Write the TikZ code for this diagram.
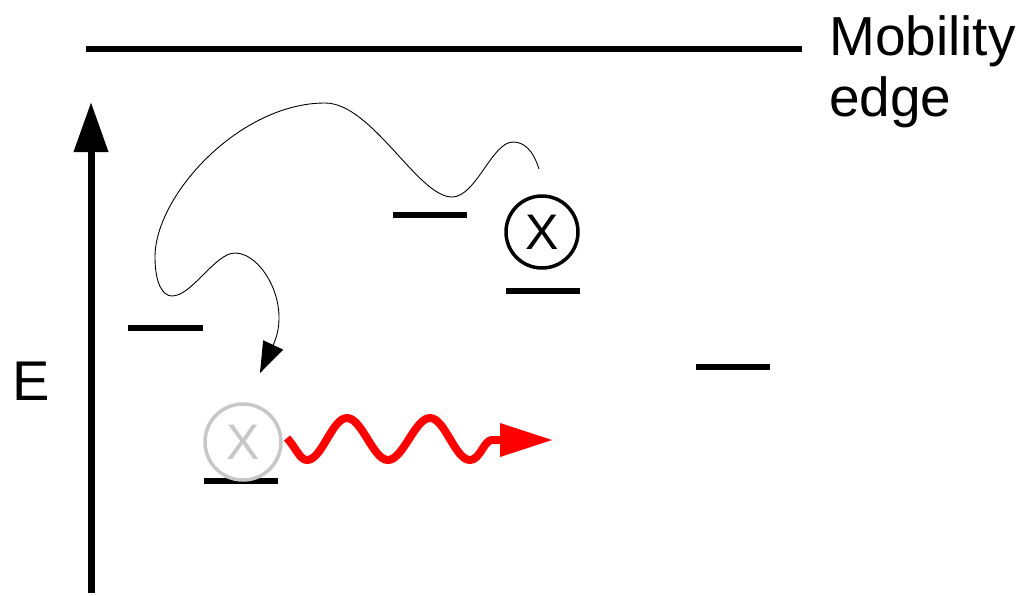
\documentclass[tikz,border=0pt]{standalone}
\usepackage{fontspec}
\setmainfont{Liberation Sans}
\usetikzlibrary{arrows.meta}
\begin{document}
\begin{tikzpicture}[x=1pt,y=-1pt,
  level/.style={line width=6pt},
  bigtext/.style={font=\fontsize{55}{60}\selectfont, inner sep=0pt},
  trap/.style={circle, draw, line width=3.5pt, minimum size=72pt, inner sep=0pt,
               font=\fontsize{50}{50}\selectfont},
  hop/.style={line width=0.9pt, -{Triangle[length=31pt,width=22pt]}},
  photon/.style={red, line width=8pt, line join=round}
]
\useasboundingbox (0,0) rectangle (1030,595);

% mobility edge
\coordinate (me1) at (86,49);
\coordinate (me2) at (802,49);
\draw[line width=6.5pt] (me1) -- (me2);
\node[bigtext, anchor=base west] (metext) at (829,55) {Mobility};
\node[bigtext, anchor=base west] (metext2) at (829,116) {edge};

% energy axis
\coordinate (ax0) at (91,593);
\coordinate (ax1) at (91,102);
\draw[line width=7pt, -{Triangle[length=50pt,width=33pt]}] (ax0) -- (ax1);
\node[font=\fontsize{56}{56}\selectfont, inner sep=0pt, anchor=base west] (E) at (12,400) {E};

% localized states
\coordinate (l1a) at (128,328); \coordinate (l1b) at (203,328);
\coordinate (l2a) at (393,215); \coordinate (l2b) at (467,215);
\coordinate (l3a) at (506,291); \coordinate (l3b) at (580,291);
\coordinate (l4a) at (696,367); \coordinate (l4b) at (770,367);
\coordinate (l5a) at (204,481); \coordinate (l5b) at (278,481);
\foreach \a/\b in {l1a/l1b,l2a/l2b,l3a/l3b,l4a/l4b,l5a/l5b}
  \draw[level] (\a) -- (\b);

% carriers
\node[trap] (xon) at (542,232) {X};
\node[trap, draw=black!22, text=black!22, minimum size=76pt] (xoff) at (243,442) {X};

% hopping path
\coordinate (hs) at (539,169);
\coordinate (he) at (260,373);
\draw[hop] (hs) .. controls (533,150) and (524,142) .. (513,142)
  .. controls (492,142) and (476,197) .. (452,197)
  .. controls (418,197) and (372,103) .. (325,103)
  .. controls (240,103) and (155,195) .. (155,257)
  .. controls (155,284) and (163,296) .. (172,296)
  .. controls (192,296) and (215,253) .. (235,253)
  .. controls (262,253) and (292,305) .. (he);

% emitted photon
\coordinate (ps) at (287,438);
\coordinate (pe) at (552,440);
\draw[photon] (ps) .. controls (296,448) and (300,460) .. (307,460)
  .. controls (322,460) and (332,418) .. (347,418)
  .. controls (362,418) and (373,460) .. (388,460)
  .. controls (403,460) and (415,418) .. (430,418)
  .. controls (445,418) and (455,460) .. (470,460)
  .. controls (480,460) and (484,440) .. (492,440) -- (502,440);
\fill[red] (pe) -- (500,423) -- (500,457) -- cycle;
\end{tikzpicture}
\end{document}
